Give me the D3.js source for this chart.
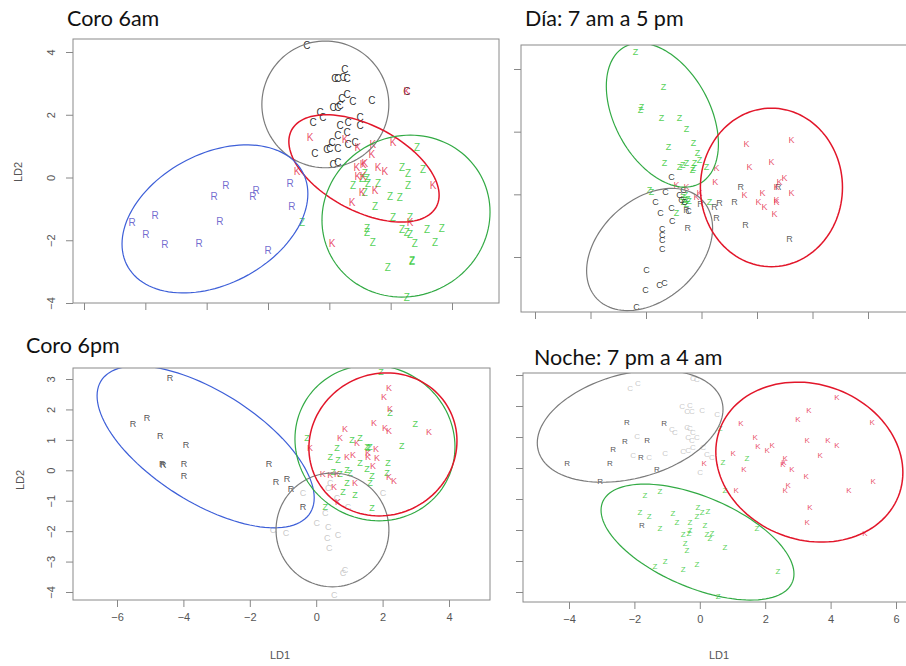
<!DOCTYPE html>
<html>
<head>
<meta charset="utf-8">
<script src="https://cdn.jsdelivr.net/npm/d3@7"></script>
<style>
  body { margin: 0; background: #fff; }
  svg { display: block; }
  .title { font-family: Lato, 'Open Sans', sans-serif; font-size: 21.5px; fill: #111; }
  .pt { font-family: 'Liberation Sans', Arial, sans-serif; text-anchor: middle; dominant-baseline: central; }
  .axis text { font-family: 'Liberation Sans', Arial, sans-serif; font-size: 11px; fill: #555; }
  .axis line { stroke: #888; }
  .lab { font-family: 'Liberation Sans', Arial, sans-serif; font-size: 11px; fill: #555; text-anchor: middle; }
</style>
</head>
<body>
<svg id="chart" width="906" height="666"></svg>
<script>
// Coro 6am (LD1, LD2 per point)
const am6C = [[1.27,4.22],[2.18,3.17],[2.28,3.17],[2.45,3.20],[2.51,3.43],[2.58,3.14],[2.58,2.63],[2.41,2.53],[2.77,2.41],[3.39,2.47],[2.12,2.22],[2.28,2.22],[2.35,2.31],[1.70,2.06],[1.79,1.90],[1.47,1.74],[2.35,1.67],[2.61,1.74],[3.00,1.90],[3.00,1.67],[2.28,1.35],[2.58,1.42],[2.09,1.13],[2.02,0.94],[2.28,0.94],[2.61,1.04],[2.84,1.13],[1.53,0.78],[1.92,0.88],[2.12,0.40],[2.28,0.49],[4.53,2.73]]
const am6K = [[1.37,1.26],[2.51,1.20],[2.93,0.97],[3.42,1.04],[4.08,1.10],[3.39,0.72],[3.16,0.46],[3.10,0.40],[3.59,0.33],[3.81,0.18],[2.90,0.33],[2.93,0.02],[3.10,0.02],[0.95,0.18],[5.38,-0.24],[3.49,-0.40],[3.07,-0.49],[2.74,-0.81],[4.63,-1.42],[2.09,-2.09],[4.53,2.73]]
const am6Z = [[4.86,0.97],[4.37,0.33],[4.57,0.14],[5.06,0.24],[3.16,0.14],[3.07,-0.02],[3.23,-0.02],[2.77,-0.24],[3.26,-0.18],[3.59,-0.18],[4.57,-0.24],[3.16,-0.49],[3.98,-0.62],[4.30,-0.65],[3.49,-0.94],[4.08,-1.29],[4.63,-1.26],[3.23,-1.61],[3.23,-1.74],[4.37,-1.67],[4.53,-1.74],[4.63,-1.83],[5.19,-1.67],[5.67,-1.61],[3.42,-2.06],[4.79,-2.09],[5.45,-2.06],[4.70,-2.63],[4.70,-2.69],[3.91,-2.88],[4.53,-3.84],[1.11,-1.45]]
const am6R = [[-4.43,-1.45],[-3.68,-1.20],[-3.98,-1.83],[-3.36,-2.15],[-2.25,-2.09],[-1.76,-0.59],[-1.37,-0.27],[-1.57,-1.39],[-0.39,-0.43],[-0.49,-0.59],[0.72,-0.18],[0.78,-0.94],[0.00,-2.34]]
// ellipses: centre, half extents on each axis, correlation
const am6Ellipses = [
  {g: 'C', cx: 1.87, cy: 2.33, rx: 2.07, ry: 2.02, rho: 0},
  {g: 'K', cx: 3.13, cy: 0.29, rx: 2.45, ry: 1.71, rho: -0.5},
  {g: 'Z', cx: 4.50, cy: -1.23, rx: 2.74, ry: 2.58, rho: 0.05},
  {g: 'R', cx: -1.73, cy: -1.32, rx: 3.03, ry: 2.36, rho: 0.34}
]

// Dia: 7 am a 5 pm
const diaZ = [[-2.38,4.54],[-1.37,3.42],[-2.16,2.78],[-2.20,2.69],[-1.44,2.43],[-0.79,2.43],[-0.54,2.08],[-1.19,1.50],[-0.29,1.63],[-0.14,1.31],[-1.33,0.99],[-0.79,0.86],[-0.54,0.99],[-0.25,0.99],[-0.29,0.83],[0.18,0.86],[-0.07,1.09],[-0.68,0.93],[-0.32,0.77],[-1.80,0.06],[-1.87,0.13],[0.29,-0.26],[-0.90,-0.61],[-0.68,-0.10],[-0.58,-0.03],[-0.50,-0.16],[-0.65,-0.26],[-0.54,-0.32],[-0.45,-0.22],[-0.60,-0.18]]
const diaK = [[1.62,1.60],[3.24,1.73],[1.73,0.86],[2.52,1.02],[0.54,0.83],[0.50,0.38],[2.99,0.51],[2.81,0.38],[2.70,0.22],[1.55,-0.03],[2.20,0.03],[3.24,0.03],[2.05,-0.26],[2.27,-0.42],[2.70,-0.19],[2.70,-0.26],[2.63,-0.64],[-0.18,-0.10],[-0.07,0.03],[-0.54,0.22],[-0.90,0.29]]
const diaR = [[1.41,0.22],[0.65,-0.29],[1.19,-0.26],[0.47,-0.42],[0.54,-0.74],[-0.50,-1.06],[1.59,-0.99],[3.17,-1.41],[-0.04,-0.32],[-0.54,-0.51],[2.77,0.22]]
const diaC = [[-1.08,0.54],[-1.30,0.06],[-1.66,-0.26],[-1.48,-0.58],[-1.08,-0.45],[-1.05,-0.86],[-1.41,-1.12],[-1.41,-1.31],[-1.41,-1.47],[-1.41,-1.73],[-1.98,-2.43],[-2.02,-3.04],[-1.51,-2.88],[-1.33,-2.82],[-2.34,-3.58],[-0.47,-0.54],[-0.72,-0.19],[-0.61,-0.26],[-0.79,-0.03],[-0.65,0.13]]
const diaEllipses = [
  {g: 'Z', cx: -1.41, cy: 2.53, rx: 2.02, ry: 2.30, rho: -0.40},
  {g: 'C', cx: -1.87, cy: -1.76, rx: 2.27, ry: 1.95, rho: 0.35},
  {g: 'K', cx: 2.52, cy: 0.22, rx: 2.56, ry: 2.53, rho: 0}
]

// Coro 6pm
const pm6R = [[-4.40,3.03],[-5.10,1.72],[-5.52,1.52],[-4.70,1.13],[-3.92,0.83],[-4.64,0.21],[-4.61,0.17],[-3.98,0.21],[-3.98,-0.19],[-1.42,0.21],[-1.21,-0.38],[-0.88,-0.29],[-0.76,-0.61],[-0.40,-1.21]]
const pm6C = [[0.02,-1.73],[0.36,-1.86],[0.66,-2.13],[0.33,-2.23],[0.39,-2.55],[-0.91,-2.06],[-1.30,-1.96],[0.87,-3.28],[0.81,-3.37],[0.54,-4.10],[2.01,-0.75],[0.96,-1.21],[0.27,-1.40],[0.42,-0.42],[0.63,-0.91],[0.36,-0.58],[-0.40,-0.75]]
const pm6K = [[2.19,2.70],[2.04,2.41],[2.22,2.01],[1.74,1.55],[2.07,1.39],[2.19,1.29],[3.40,1.26],[0.87,1.36],[0.72,1.06],[1.23,0.90],[1.80,0.70],[1.56,0.57],[1.56,0.44],[1.83,0.40],[0.93,0.44],[1.11,0.50],[1.71,0.14],[0.20,-0.12],[0.42,-0.15],[0.63,-0.12],[0.54,-0.55],[1.17,-0.42],[2.19,-0.22],[2.34,-0.35],[0.66,-1.04],[-0.19,0.73]]
const pm6Z = [[1.95,3.23],[2.22,1.88],[2.98,1.52],[-0.28,1.06],[1.08,1.00],[1.32,1.06],[2.58,0.80],[1.53,0.77],[1.56,0.73],[0.63,0.73],[0.42,0.44],[0.66,0.34],[1.32,0.24],[2.16,0.24],[1.53,0.04],[0.93,0.01],[1.02,-0.09],[0.72,-0.12],[1.68,-0.19],[1.62,-0.42],[2.13,-0.09],[0.93,-0.42],[0.81,-0.71],[1.17,-0.81],[0.27,-1.21],[1.68,-1.24],[0.51,-0.06],[1.62,0.77]]
const pm6Ellipses = [
  {g: 'R', cx: -3.33, cy: 0.77, rx: 3.27, ry: 2.66, rho: -0.63},
  {g: 'C', cx: 0.49, cy: -1.96, rx: 1.70, ry: 1.87, rho: 0},
  {g: 'Z', cx: 1.77, cy: 0.90, rx: 2.41, ry: 2.56, rho: -0.05},
  {g: 'K', cx: 2.01, cy: 0.85, rx: 2.23, ry: 2.35, rho: 0.05}
]

// Noche: 7 pm a 4 am
const nocheC = [[-2.13,2.58],[-1.89,2.74],[-0.21,2.90],[-0.09,2.84],[-0.54,1.97],[-0.30,2.03],[-0.39,1.81],[-0.24,1.81],[0.07,1.87],[0.53,1.74],[-0.85,1.23],[-0.76,1.16],[-0.39,1.32],[-0.30,1.29],[-0.21,1.13],[-0.36,1.00],[-0.24,0.90],[-0.09,0.97],[-1.92,1.03],[-2.04,0.39],[-1.55,0.35],[-1.06,0.48],[-0.51,0.52],[-0.36,0.58],[-0.21,0.65],[0.10,0.65],[0.22,0.42],[0.37,0.35],[0.01,-0.16]]
const nocheR = [[-2.23,1.48],[-1.09,1.45],[-2.29,0.84],[-1.61,0.90],[-2.65,0.61],[-1.80,0.35],[-4.06,0.13],[-2.75,0.13],[-1.31,-0.06],[-3.05,-0.45],[-1.77,-1.84]]
const nocheK = [[4.19,2.29],[3.34,1.87],[3.00,1.55],[5.27,1.48],[1.26,1.42],[1.69,0.97],[1.78,0.68],[2.06,0.58],[2.21,0.71],[3.28,0.90],[3.92,0.90],[4.19,0.71],[1.02,0.48],[3.68,0.39],[2.61,0.32],[2.57,0.19],[2.54,0.10],[0.13,0.16],[1.35,-0.06],[2.82,-0.06],[3.25,-0.26],[2.70,-0.55],[2.61,-0.74],[1.11,-0.74],[4.56,-0.71],[5.30,-0.45],[3.37,-1.26],[3.28,-1.77],[5.05,-2.10]]
const nocheZ = [[0.62,1.26],[1.44,0.32],[0.71,0.19],[0.77,-0.74],[-1.68,-0.90],[-1.22,-0.77],[-1.83,-1.45],[-1.55,-1.55],[-0.82,-1.48],[-0.70,-1.77],[-0.06,-1.29],[0.07,-1.42],[0.25,-1.39],[-0.09,-1.55],[-0.30,-1.77],[0.16,-1.84],[-1.22,-1.94],[-0.51,-2.16],[-0.33,-2.10],[0.22,-2.13],[0.31,-2.26],[0.37,-2.10],[-0.45,-2.42],[-0.39,-2.65],[1.75,-1.94],[0.77,-2.55],[-1.37,-3.19],[-1.06,-3.00],[-0.51,-3.26],[-0.09,-3.10],[2.39,-3.35],[0.56,-4.16],[-0.30,-2.00]]
const nocheEllipses = [
  {g: 'C', cx: -2.13, cy: 1.35, rx: 2.84, ry: 1.81, rho: 0.3},
  {g: 'K', cx: 3.35, cy: 0.19, rx: 2.86, ry: 2.58, rho: -0.13},
  {g: 'Z', cx: -0.07, cy: -2.39, rx: 2.95, ry: 1.87, rho: -0.55}
]

const ticksEven6 = [-6, -4, -2, 0, 2, 4, 6]
const ticksAm6Y = [-4, -2, 0, 2, 4]
const ticksDiaY = [-2, 0, 2, 4]
const ticksPm6X = [-6, -4, -2, 0, 2, 4]
const ticksPm6Y = [-4, -3, -2, -1, 0, 1, 2, 3]
const ticksNocheX = [-4, -2, 0, 2, 4, 6]
const ticksNocheY = [-4, -3, -2, -1, 0, 1, 2, 3]

const ellipseColor = {C: '#7b7b7b', K: '#e2162a', Z: '#32aa44', R: '#3d5fd8'}
const red = '#e5304f'
const green = '#36c93a'

const panels = [
  {
    title: 'Coro 6am', tx: 67, ty: 26,
    box: {l: 73, t: 39, r: 499, b: 303},
    x: d3.scaleLinear([-6, 6], [84, 452]), y: d3.scaleLinear([-4, 4], [303, 52]),
    xTicks: ticksEven6, yTicks: ticksAm6Y, xLabels: false, yLabels: true,
    yTitle: [18, 172],
    groups: [['R', am6R], ['C', am6C], ['Z', am6Z], ['K', am6K]],
    colors: {C: '#1e1e1e', K: red, Z: green, R: '#6a63cc'}, size: 10,
    ellipses: am6Ellipses
  },
  {
    title: 'Día: 7 am a 5 pm', tx: 525, ty: 26,
    box: {l: 521, t: 45, r: 912, b: 312},
    x: d3.scaleLinear([-6, 6], [535, 868]), y: d3.scaleLinear([-2, 4], [257, 69]),
    xTicks: ticksEven6, yTicks: ticksDiaY, xLabels: false, yLabels: false,
    groups: [['Z', diaZ], ['C', diaC], ['R', diaR], ['K', diaK]],
    colors: {C: '#333', K: red, Z: green, R: '#555'}, size: 9,
    ellipses: diaEllipses
  },
  {
    title: 'Coro 6pm', tx: 26, ty: 353,
    box: {l: 73, t: 368, r: 490, b: 600},
    x: d3.scaleLinear([-6, 4], [117, 449]), y: d3.scaleLinear([-4, 3], [592, 379]),
    xTicks: ticksPm6X, yTicks: ticksPm6Y, xLabels: true, yLabels: true,
    xTitle: [280, 659], yTitle: [20, 480],
    groups: [['C', pm6C], ['R', pm6R], ['Z', pm6Z], ['K', pm6K]],
    colors: {C: '#c6c6c6', K: red, Z: green, R: '#484848'}, size: 9,
    ellipses: pm6Ellipses
  },
  {
    title: 'Noche: 7 pm a 4 am', tx: 534, ty: 365,
    box: {l: 523, t: 373, r: 912, b: 602},
    x: d3.scaleLinear([-4, 6], [569, 896]), y: d3.scaleLinear([-4, 3], [592, 375]),
    xTicks: ticksNocheX, yTicks: ticksNocheY, xLabels: true, yLabels: false,
    xTitle: [719, 659],
    groups: [['C', nocheC], ['R', nocheR], ['Z', nocheZ], ['K', nocheK]],
    colors: {C: '#c6c6c6', K: red, Z: green, R: '#484848'}, size: 8,
    ellipses: nocheEllipses
  }
]

const svg = d3.select('#chart')

// points of an ellipse given by its half extents and correlation
const ellipsePoints = e => {
  const phase = Math.acos(e.rho)
  return d3.range(0, 121).map(i => {
    const t = i / 120 * 2 * Math.PI
    return [e.cx + e.rx * Math.cos(t), e.cy + e.ry * Math.cos(t - phase)]
  })
}

panels.forEach((p, i) => {
  const g = svg.append('g')
  const {l, t, r, b} = p.box

  g.append('clipPath').attr('id', `clip${i}`)
    .append('rect').attr('x', l).attr('y', t).attr('width', r - l).attr('height', b - t)

  const plot = g.append('g').attr('clip-path', `url(#clip${i})`)

  p.groups.forEach(([name, pts]) => {
    plot.selectAll(null)
      .data(pts)
      .join('text')
      .attr('class', 'pt')
      .attr('x', d => p.x(d[0]))
      .attr('y', d => p.y(d[1]))
      .attr('font-size', p.size)
      .attr('fill', p.colors[name])
      .attr('fill-opacity', name === 'K' || name === 'Z' ? 0.85 : 0.95)
      .text(name)
  })

  const line = d3.line().x(d => p.x(d[0])).y(d => p.y(d[1])).curve(d3.curveLinearClosed)
  plot.selectAll('path.ell')
    .data(p.ellipses)
    .join('path')
    .attr('class', 'ell')
    .attr('d', e => line(ellipsePoints(e)))
    .attr('fill', 'none')
    .attr('stroke', e => ellipseColor[e.g])
    .attr('stroke-width', e => e.g === 'K' ? 1.5 : 1.2)

  g.append('rect')
    .attr('x', l).attr('y', t).attr('width', r - l).attr('height', b - t)
    .attr('fill', 'none').attr('stroke', '#8a8a8a')

  const xAxis = d3.axisBottom(p.x).tickValues(p.xTicks).tickSize(7).tickPadding(6)
    .tickFormat(p.xLabels ? d3.format('') : () => '')
  g.append('g').attr('class', 'axis')
    .attr('transform', `translate(0,${b})`)
    .call(xAxis)
    .call(a => a.select('.domain').remove())

  const yAxis = d3.axisLeft(p.y).tickValues(p.yTicks).tickSize(7)
    .tickFormat(p.yLabels ? d3.format('') : () => '')
  g.append('g').attr('class', 'axis')
    .attr('transform', `translate(${l},0)`)
    .call(yAxis)
    .call(a => a.select('.domain').remove())
    .call(a => a.selectAll('text')
      .attr('x', null).attr('dy', null)
      .attr('text-anchor', 'middle')
      .attr('transform', 'translate(-18,0) rotate(-90)'))

  if (p.xTitle) {
    g.append('text').attr('class', 'lab')
      .attr('x', p.xTitle[0]).attr('y', p.xTitle[1]).text('LD1')
  }
  if (p.yTitle) {
    g.append('text').attr('class', 'lab')
      .attr('transform', `translate(${p.yTitle[0] + 4},${p.yTitle[1]}) rotate(-90)`)
      .text('LD2')
  }

  g.append('text').attr('class', 'title')
    .attr('x', p.tx).attr('y', p.ty).text(p.title)
})
</script>
</body>
</html>
